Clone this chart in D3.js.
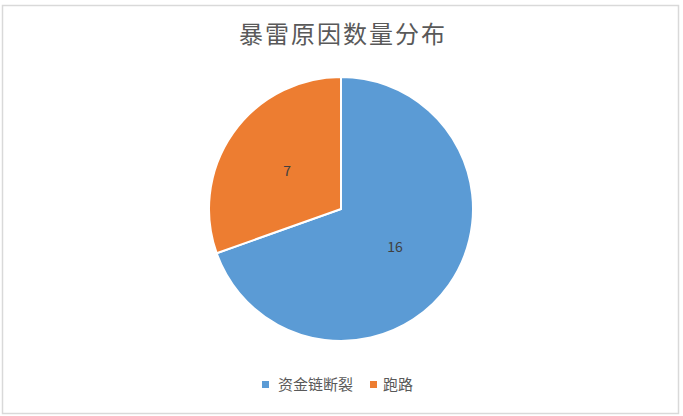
<!DOCTYPE html>
<html>
<head>
<meta charset="utf-8">
<script src="https://cdn.jsdelivr.net/npm/d3@7"></script>
<style>
  body { margin: 0; background: #fff; }
  text { font-family: "Noto Sans CJK SC", "DejaVu Sans", sans-serif; }
</style>
</head>
<body>
<div id="chart"></div>
<script>
// data
const categories = ["资金链断裂", "跑路"];
const counts = [16, 7];
const colors = ["#5B9BD5", "#ED7D31"];
const title = "暴雷原因数量分布";

const width = 683, height = 416;
const cx = 341, cy = 209, radius = 132;

const svg = d3.select("#chart").append("svg")
    .attr("width", width)
    .attr("height", height);

// chart border
svg.append("rect")
    .attr("x", 2.5).attr("y", 5.5)
    .attr("width", 676).attr("height", 408)
    .attr("fill", "#fff")
    .attr("stroke", "#d9d9d9")
    .attr("stroke-width", 1.5);

// title
svg.append("text")
    .attr("x", cx + 2).attr("y", 43)
    .attr("text-anchor", "middle")
    .attr("fill", "#595959")
    .attr("font-size", 24)
    .attr("letter-spacing", 2)
    .text(title);

const data = categories.map((c, i) => ({name: c, value: counts[i], color: colors[i]}));

const pie = d3.pie().value(d => d.value).sort(null);
const arc = d3.arc().innerRadius(0).outerRadius(radius);
const labelArc = d3.arc().innerRadius(radius * 0.5).outerRadius(radius * 0.5);

const g = svg.append("g").attr("transform", "translate(" + cx + "," + cy + ")");

const slices = g.selectAll(".slice").data(pie(data)).enter().append("g").attr("class", "slice");

slices.append("path")
    .attr("d", arc)
    .attr("fill", d => d.data.color)
    .attr("stroke", "#fff")
    .attr("stroke-width", 2);

slices.append("text")
    .attr("transform", d => "translate(" + labelArc.centroid(d) + ")")
    .attr("text-anchor", "middle")
    .attr("dy", "0.35em")
    .attr("fill", "#404040")
    .attr("font-size", 14)
    .text(d => d.data.value);

// legend
const legendItems = [
    {x: 262, tx: 278},
    {x: 370, tx: 383}
];
const legend = svg.append("g");
data.forEach((d, i) => {
    legend.append("rect")
        .attr("x", legendItems[i].x).attr("y", 381)
        .attr("width", 7).attr("height", 7)
        .attr("fill", d.color);
    legend.append("text")
        .attr("x", legendItems[i].tx).attr("y", 390)
        .attr("fill", "#595959")
        .attr("font-size", 15)
        .text(d.name);
});
</script>
</body>
</html>
